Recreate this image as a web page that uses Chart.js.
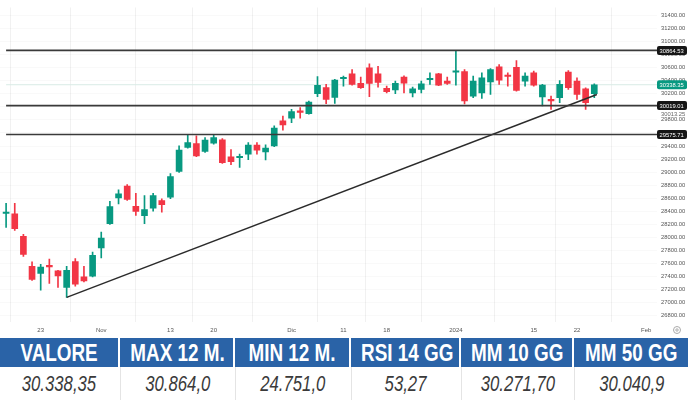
<!DOCTYPE html>
<html>
<head>
<meta charset="utf-8">
<script src="https://cdn.jsdelivr.net/npm/chart.js@4.4.1/dist/chart.umd.min.js"></script>
<style>
  html, body { margin: 0; padding: 0; background: #fff; width: 700px; height: 400px; overflow: hidden; }
  #wrap { position: absolute; left: 0; top: 0; width: 700px; height: 338px; }
  #tbl { position: absolute; left: 0; top: 338px; width: 700px; height: 62px; }
  .cell { position: absolute; text-align: center; font-family: 'Liberation Sans', sans-serif; white-space: nowrap; overflow: hidden; }
  .cell span { display: inline-block; }
  .head { top: 0; height: 29px; background: #2a63a7; color: #fff; font-weight: bold; font-size: 23px; line-height: 30px; }
  .head span { transform: scaleX(0.82); }
  .val { top: 29px; height: 33px; color: #3a3a3a; font-style: italic; font-size: 22px; line-height: 34px; border-left: 1px solid #e4e4e4; }
  .val span { transform: scaleX(0.76); }
</style>
</head>
<body>
<div id="wrap"><canvas id="candles" width="700" height="338"></canvas></div>
<div id="tbl"></div>
<script>
// daily candles, first one is 4 sessions before Oct 23 (index -4)
var firstIndex = -4;
var open  = [28366, 28362, 28015, 27558, 27447, 27558, 27486, 27233, 27630, 27395,
             27405, 27837, 28209, 28605, 28788, 28477, 28331, 28447, 28564, 28615,
             29011, 29377, 29438, 29316, 29444, 29494, 29235, 29220, 29276, 29413,
             29311, 29403, 29784, 29825, 29925, 29895, 30200, 30295, 30145, 30430,
             30505, 30359, 30597, 30505, 30282, 30261, 30455, 30215, 30267, 30415,
             30505, 30394, 30530, 30539, 30165, 30215, 30383, 30612, 30475, 30607,
             30394, 30520, 30150, 30115, 30139, 30531, 30394, 30276, 30200];
var high  = [28523, 28523, 28046, 27624, 27588, 27669, 27497, 27558, 27675, 27558,
             27776, 28081, 28554, 28727, 28808, 28676, 28640, 28676, 28590, 28976,
             29403, 29570, 29555, 29529, 29566, 29514, 29346, 29276, 29453, 29453,
             29418, 29708, 29860, 29962, 29987, 30089, 30462, 30343, 30420, 30470,
             30572, 30455, 30658, 30622, 30317, 30394, 30475, 30302, 30394, 30520,
             30515, 30455, 30864, 30569, 30470, 30520, 30587, 30648, 30520, 30709,
             30520, 30546, 30343, 30165, 30404, 30557, 30444, 30292, 30353];
var low   = [28153, 28107, 27710, 27340, 27192, 27294, 27233, 27081, 27253, 27319,
             27395, 27684, 28198, 28514, 28565, 28336, 28209, 28401, 28386, 28595,
             28996, 29368, 29235, 29301, 29429, 29133, 29113, 29072, 29189, 29276,
             29185, 29388, 29642, 29758, 29825, 29886, 30157, 30048, 30051, 30317,
             30333, 30282, 30154, 30302, 30215, 30200, 30215, 30150, 30215, 30343,
             30323, 30343, 30333, 30043, 30139, 30130, 30191, 30343, 30317, 30241,
             30317, 30317, 30013, 29962, 30063, 30267, 30115, 29962, 30139];
var close = [28381, 28133, 27741, 27355, 27547, 27548, 27410, 27497, 27284, 27334,
             27726, 27989, 28473, 28666, 28580, 28397, 28427, 28640, 28503, 28930,
             29337, 29453, 29250, 29490, 29529, 29144, 29159, 29228, 29413, 29337,
             29368, 29673, 29723, 29926, 29915, 30074, 30328, 30115, 30409, 30440,
             30343, 30292, 30359, 30374, 30231, 30359, 30363, 30276, 30353, 30425,
             30333, 30359, 30540, 30089, 30394, 30444, 30572, 30409, 30465, 30252,
             30470, 30333, 30333, 30089, 30343, 30292, 30191, 30063, 30338.35];

// x axis labels (session index -> text)
var xTickPos    = [0, 7, 15, 20, 29, 35, 40, 48, 57, 62, 70];
var xTickLabels = ['23', 'Nov', '13', '20', 'Dic', '11', '18', '2024', '15', '22', 'Feb'];

// y axis tick values
var yTicks = [26800, 27000, 27200, 27400, 27600, 27800, 28000, 28200, 28400, 28600, 28800, 29000,
              29200, 29400, 29600, 29800, 30000, 30200, 30400, 30600, 30800, 31000, 31200, 31400];

// horizontal levels and trend line
var levels = [30864.53, 30019.01, 29575.71];
var lastPrice = 30338.35;
var lowMark = 30013.25;
var trendX = [3, 64.3];
var trendY = [27081, 30188];

// table below the chart
var statNames  = ['VALORE', 'MAX 12 M.', 'MIN 12 M.', 'RSI 14 GG', 'MM 10 GG', 'MM 50 GG'];
var statValues = ['30.338,35', '30.864,0', '24.751,0', '53,27', '30.271,70', '30.040,9'];

var UP = '#089981', DOWN = '#f23645';

var bodies = [], wicks = [], colors = [];
for (var i = 0; i < open.length; i++) {
    var x = firstIndex + i;
    bodies.push({ x: x, y: [open[i], close[i]] });
    wicks.push({ x: x, y: [low[i], high[i]] });
    colors.push(close[i] >= open[i] ? UP : DOWN);
}

var xMin = -4.705, xMax = 71.25;

var datasets = [];
levels.forEach(function(v) {
    datasets.push({
        type: 'line',
        data: [{ x: -4, y: v }, { x: xMax, y: v }],
        borderColor: '#3a3a3a',
        borderWidth: 1.6,
        pointRadius: 0,
        order: 0
    });
});
datasets.push({
    type: 'line',
    data: [{ x: -4, y: lastPrice }, { x: xMax, y: lastPrice }],
    borderColor: '#d9ebe6',
    borderWidth: 1,
    pointRadius: 0,
    order: 3
});
datasets.push({
    type: 'line',
    data: [{ x: trendX[0], y: trendY[0] }, { x: trendX[1], y: trendY[1] }],
    borderColor: '#2b2b2b',
    borderWidth: 1.5,
    pointRadius: 0,
    order: 0
});
datasets.push({
    type: 'bar',
    data: wicks,
    backgroundColor: colors,
    barThickness: 1,
    grouped: false,
    order: 2
});
datasets.push({
    type: 'bar',
    data: bodies,
    backgroundColor: colors,
    barThickness: 6,
    minBarLength: 1.5,
    grouped: false,
    order: 1
});

// price boxes on the right axis
var axisBoxes = {
    id: 'axisBoxes',
    afterDraw: function(chart) {
        var ctx = chart.ctx, ys = chart.scales.y;
        ctx.save();
        ctx.font = '5.8px "Liberation Sans", sans-serif';
        ctx.textBaseline = 'middle';
        ctx.textAlign = 'left';

        ctx.fillStyle = '#666';
        ctx.fillText(lowMark.toFixed(2), 661, ys.getPixelForValue(lowMark) + 8);

        function box(v, bg) {
            var py = ys.getPixelForValue(v);
            ctx.fillStyle = bg;
            ctx.beginPath();
            ctx.roundRect(657, py - 4.5, 30, 9, 2);
            ctx.fill();
            ctx.fillStyle = '#fff';
            ctx.fillText(v.toFixed(2), 659.5, py + 0.5);
        }
        levels.forEach(function(v) { box(v, '#161616'); });
        box(lastPrice, UP);

        // settings gear
        ctx.strokeStyle = '#aaa';
        ctx.lineWidth = 1;
        ctx.beginPath();
        ctx.arc(677, 330, 3.5, 0, Math.PI * 2);
        ctx.stroke();
        ctx.beginPath();
        ctx.arc(677, 330, 1.2, 0, Math.PI * 2);
        ctx.stroke();
        ctx.restore();
    }
};

new Chart(document.getElementById('candles').getContext('2d'), {
    type: 'bar',
    data: { datasets: datasets },
    options: {
        responsive: false,
        animation: false,
        layout: { padding: 0 },
        plugins: { legend: { display: false }, tooltip: { enabled: false } },
        scales: {
            x: {
                type: 'linear',
                min: xMin,
                max: xMax,
                offset: false,
                afterBuildTicks: function(scale) {
                    scale.ticks = xTickPos.map(function(v) { return { value: v }; });
                },
                afterFit: function(scale) { scale.height = 16; },
                ticks: {
                    autoSkip: false,
                    maxRotation: 0,
                    padding: 5,
                    color: '#555',
                    font: { size: 6, family: 'Liberation Sans' },
                    callback: function(v) {
                        var k = xTickPos.indexOf(v);
                        return k >= 0 ? xTickLabels[k] : '';
                    }
                },
                grid: { color: '#f1f1f1', drawTicks: false },
                border: { display: false }
            },
            y: {
                position: 'right',
                min: 26704,
                max: 31522,
                afterBuildTicks: function(scale) {
                    scale.ticks = yTicks.map(function(v) { return { value: v }; });
                },
                afterFit: function(scale) { scale.width = 43; },
                ticks: {
                    padding: 4,
                    color: '#555',
                    font: { size: 5.8, family: 'Liberation Sans' },
                    callback: function(v) { return Number(v).toFixed(2); }
                },
                grid: { color: 'rgba(0,0,0,0.025)', drawTicks: false },
                border: { display: false }
            }
        }
    },
    plugins: [axisBoxes]
});

// stats table
var lefts = [0, 120, 235, 351, 461, 574];
var widths = [118, 113, 114, 108, 111, 114];
var tbl = document.getElementById('tbl');
statNames.forEach(function(name, i) {
    var h = document.createElement('div');
    h.className = 'cell head';
    h.style.left = lefts[i] + 'px';
    h.style.width = widths[i] + 'px';
    h.innerHTML = '<span></span>';
    h.firstChild.textContent = name;
    tbl.appendChild(h);
    var v = document.createElement('div');
    v.className = 'cell val';
    v.style.left = lefts[i] + 'px';
    v.style.width = widths[i] + 'px';
    if (i === 0) v.style.borderLeft = 'none';
    v.innerHTML = '<span></span>';
    v.firstChild.textContent = statValues[i];
    tbl.appendChild(v);
});
</script>
</body>
</html>
